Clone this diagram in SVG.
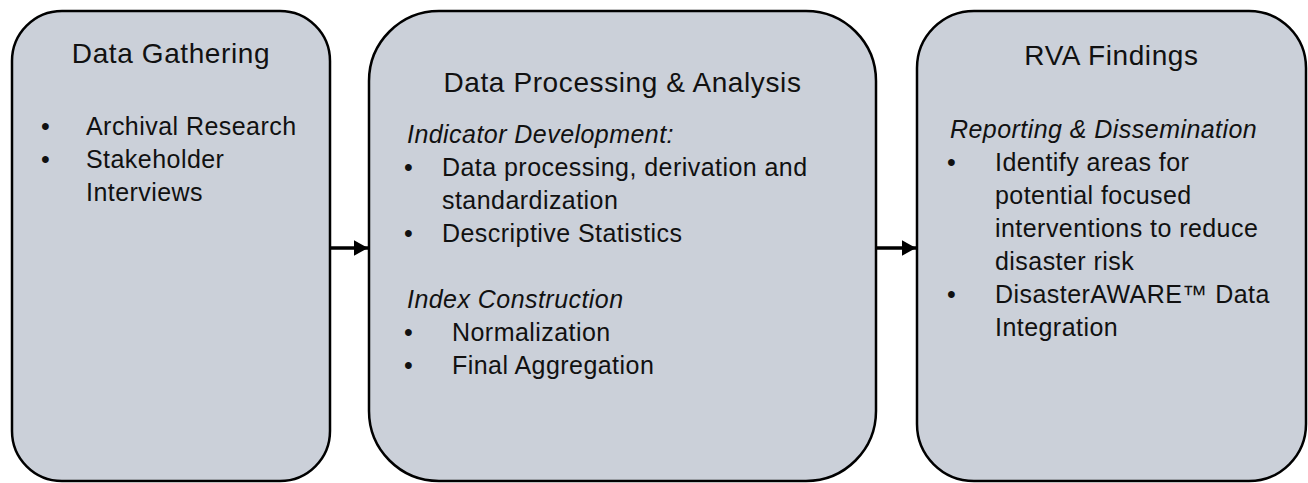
<svg xmlns="http://www.w3.org/2000/svg" width="1308" height="483" viewBox="0 0 1308 483">
<style>
.box{fill:#CBD0D9;stroke:#000;stroke-width:2.5}
.t{font-family:"Liberation Sans",Arial,sans-serif;fill:#111}
.title{font-size:28px;letter-spacing:0.6px;text-anchor:middle}
.b{font-size:25px;letter-spacing:0.45px}
.i{font-style:italic}
.conn{stroke:#000;stroke-width:3.5;fill:none}
</style>
<defs>
<marker id="ah" markerWidth="4" markerHeight="4.4" refX="4" refY="2.2" orient="auto" markerUnits="strokeWidth">
<path d="M0,0 L4,2.2 L0,4.4 Z" fill="#000"/>
</marker>
</defs>
<g id="node-gathering">
<rect class="box" x="12" y="11" width="318" height="470" rx="50" ry="50"/>
<text class="t title" x="171" y="63">Data Gathering</text>
<g class="t b">
<text x="41" y="135">•</text><text x="86" y="135">Archival Research</text>
<text x="41" y="168">•</text><text x="86" y="168">Stakeholder</text>
<text x="86" y="201">Interviews</text>
</g>
</g>
<g id="node-processing">
<rect class="box" x="369" y="11" width="507" height="470" rx="70" ry="70"/>
<text class="t title" x="622.5" y="92">Data Processing &amp; Analysis</text>
<g class="t b">
<text class="i" x="407" y="143">Indicator Development:</text>
<text x="404" y="176">•</text><text x="442" y="176">Data processing, derivation and</text>
<text x="442" y="209">standardization</text>
<text x="404" y="242">•</text><text x="442" y="242">Descriptive Statistics</text>
<text class="i" x="407" y="308">Index Construction</text>
<text x="404" y="341">•</text><text x="452" y="341">Normalization</text>
<text x="404" y="374">•</text><text x="452" y="374">Final Aggregation</text>
</g>
</g>
<g id="node-findings">
<rect class="box" x="917" y="11" width="389" height="470" rx="57" ry="57"/>
<text class="t title" x="1111.5" y="65">RVA Findings</text>
<g class="t b">
<text class="i" x="950" y="138">Reporting &amp; Dissemination</text>
<text x="947" y="171">•</text><text x="995" y="171">Identify areas for</text>
<text x="995" y="204">potential focused</text>
<text x="995" y="237">interventions to reduce</text>
<text x="995" y="270">disaster risk</text>
<text x="947" y="303">•</text><text x="995" y="303">DisasterAWARE™ Data</text>
<text x="995" y="336">Integration</text>
</g>
</g>
<g id="connectors">
<line class="conn" x1="331" y1="248" x2="368" y2="248" marker-end="url(#ah)"/>
<line class="conn" x1="877" y1="248" x2="916" y2="248" marker-end="url(#ah)"/>
</g>
</svg>
